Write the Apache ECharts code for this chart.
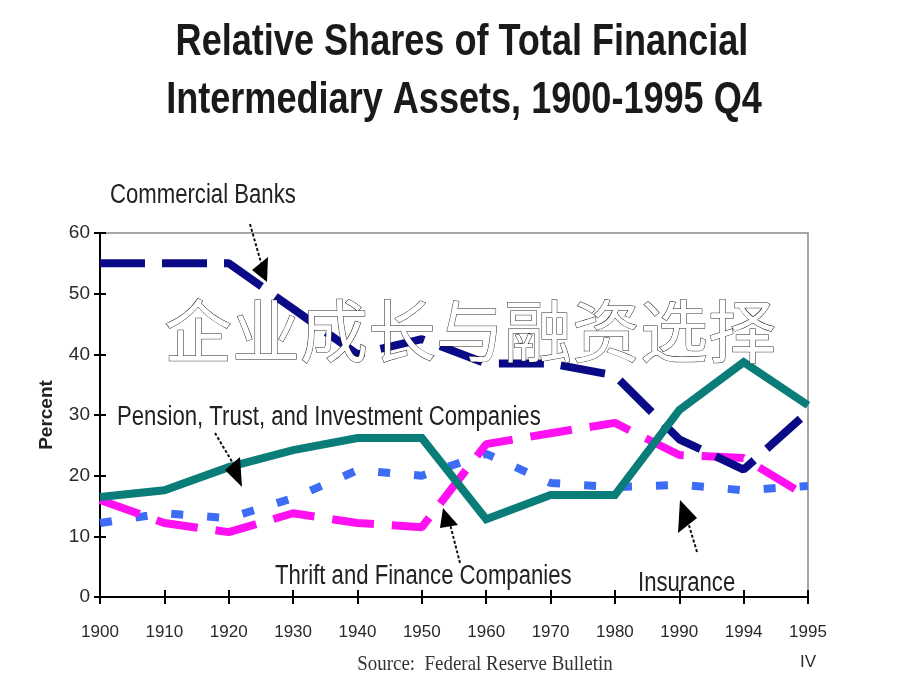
<!DOCTYPE html>
<html>
<head>
<meta charset="utf-8">
<script src="https://cdn.jsdelivr.net/npm/echarts@6/dist/echarts.min.js"></script>
<style>
html,body{margin:0;padding:0;background:#fff;}
#main{width:920px;height:690px;}
</style>
</head>
<body>
<div id="main"></div>
<script>
// ---- data ----
const years = ['1900','1910','1920','1930','1940','1950','1960','1970','1980','1990','1994','1995'];
const yTicks = [0, 10, 20, 30, 40, 50, 60];
const commercialBanks = [55, 55, 55, 47.5, 40, 42.5, 38.5, 38.5, 36.5, 26, 21, 30.5];
const pensionTrustInvest = [16.5, 17.6, 21.4, 24.2, 26.2, 26.2, 12.8, 16.8, 16.8, 30.8, 38.7, 31.6];
const thriftFinance = [16, 12.2, 10.7, 13.8, 12.2, 11.5, 25.2, 27, 28.7, 23.4, 22.9, 16.5];
const insurance = [12.2, 13.8, 13, 16.3, 20.9, 20, 23.6, 18.8, 18.1, 18.5, 17.6, 18.3];

const SANS = "'Liberation Sans', Arial, sans-serif";
const chart = echarts.init(document.getElementById('main'), null, {renderer: 'canvas'});

function arrow(line, head) {
  return [
    {type: 'polyline', z: 20, shape: {points: line},
     style: {stroke: '#111', lineWidth: 2, lineDash: [3, 2], fill: null}},
    {type: 'polygon', z: 20, shape: {points: head}, style: {fill: '#000'}}
  ];
}
function label(text, x, y, size, align) {
  return {type: 'text', z: 20, x: x, y: y, scaleX: 0.82,
    style: {text: text, font: 'normal ' + size + 'px "Liberation Sans", Arial, sans-serif',
      fill: '#222', textAlign: align || 'left', textVerticalAlign: 'middle'}};
}

const option = {
  backgroundColor: '#fff',
  animation: false,
  grid: {left: 100, right: 112, top: 233, bottom: 93, show: true,
         borderColor: '#8a8a8a', borderWidth: 1.5, backgroundColor: 'transparent'},
  xAxis: [
    {type: 'category', data: years, boundaryGap: false,
     axisLine: {lineStyle: {color: '#000', width: 2}},
     axisTick: {alignWithLabel: true, length: 7, interval: 0, lineStyle: {color: '#000', width: 2}},
     axisLabel: {interval: 0, margin: 20, lineHeight: 30, color: '#2a2a2a', fontSize: 17, fontFamily: SANS,
       formatter: v => v === '1995' ? '1995\nIV' : v},
     splitLine: {show: false}},
    {type: 'category', data: years, boundaryGap: false, position: 'bottom', gridIndex: 0,
     axisLine: {show: false},
     axisTick: {inside: true, length: 7, interval: 0, lineStyle: {color: '#000', width: 2}},
     axisLabel: {show: false}, splitLine: {show: false}}
  ],
  yAxis: [
    {type: 'value', min: 0, max: 60, interval: 10,
     axisLine: {show: true, lineStyle: {color: '#000', width: 2}},
     axisTick: {show: true, length: 6, lineStyle: {color: '#000', width: 2}},
     axisLabel: {margin: 10, color: '#2a2a2a', fontSize: 19, fontFamily: SANS,
       formatter: v => yTicks.indexOf(v) >= 0 ? String(v) : ''},
     splitLine: {show: false},
     name: 'Percent', nameLocation: 'middle', nameGap: 44, nameRotate: 90,
     nameTextStyle: {fontFamily: SANS, fontWeight: 'bold', fontSize: 19, color: '#222'}},
    {type: 'value', min: 0, max: 60, interval: 10, position: 'left',
     axisLine: {show: false},
     axisTick: {show: true, inside: true, length: 6, lineStyle: {color: '#000', width: 2}},
     axisLabel: {show: false}, splitLine: {show: false}}
  ],
  series: [
    {name: 'Insurance', type: 'line', data: insurance, symbol: 'none', z: 2,
     lineStyle: {color: '#3d6cf5', width: 8, type: [12, 24], cap: 'butt'}},
    {name: 'Thrift and Finance Companies', type: 'line', data: thriftFinance, symbol: 'none', z: 3,
     lineStyle: {color: '#ff10f0', width: 8, type: [42, 18], cap: 'butt'}},
    {name: 'Commercial Banks', type: 'line', data: commercialBanks, symbol: 'none', z: 4,
     lineStyle: {color: '#0a0a86', width: 8, type: [45, 17], cap: 'butt'}},
    {name: 'Pension, Trust, and Investment Companies', type: 'line', data: pensionTrustInvest, symbol: 'none', z: 5,
     lineStyle: {color: '#0b7d78', width: 8, type: 'solid', join: 'miter'}}
  ],
  graphic: [
    {type: 'text', x: 462, y: 43, scaleX: 0.82, z: 20,
     style: {text: 'Relative Shares of Total Financial', font: 'bold 44px "Liberation Sans", Arial, sans-serif',
       fill: '#1a1a1a', textAlign: 'center', textVerticalAlign: 'middle'}},
    {type: 'text', x: 464, y: 101, scaleX: 0.82, z: 20,
     style: {text: 'Intermediary Assets, 1900-1995 Q4', font: 'bold 44px "Liberation Sans", Arial, sans-serif',
       fill: '#1a1a1a', textAlign: 'center', textVerticalAlign: 'middle'}},
    label('Commercial Banks', 110, 196, 27),
    label('Pension, Trust, and Investment Companies', 117, 418, 27),
    label('Thrift and Finance Companies', 275, 577, 27),
    label('Insurance', 638, 584, 27),
    ...arrow([[250, 224], [262, 266]], [[252, 270], [268, 257], [267, 282]]),
    ...arrow([[215, 433], [234, 465]], [[225, 470], [240, 457], [242, 487]]),
    ...arrow([[460, 563], [450, 524]], [[443, 508], [440, 528], [458, 525]]),
    ...arrow([[697, 552], [688, 522]], [[680, 500], [678, 533], [697, 518]]),
    {type: 'text', x: 485, y: 664, scaleX: 0.86, z: 20,
     style: {text: 'Source:  Federal Reserve Bulletin', font: 'normal 22px "Liberation Serif", "Times New Roman", serif',
       fill: '#333', textAlign: 'center', textVerticalAlign: 'middle'}},
    {type: 'text', x: 470, y: 331, z: 30,
     style: {text: '企业成长与融资选择', font: 'normal 68px "Noto Sans CJK SC", sans-serif',
       fill: '#ffffff', stroke: '#1a1a1a', lineWidth: 1, textAlign: 'center', textVerticalAlign: 'middle',
       shadowColor: 'rgba(0,0,0,0.9)', shadowOffsetX: 3, shadowOffsetY: 2, shadowBlur: 1}}
  ]
};
chart.setOption(option);
</script>
</body>
</html>
